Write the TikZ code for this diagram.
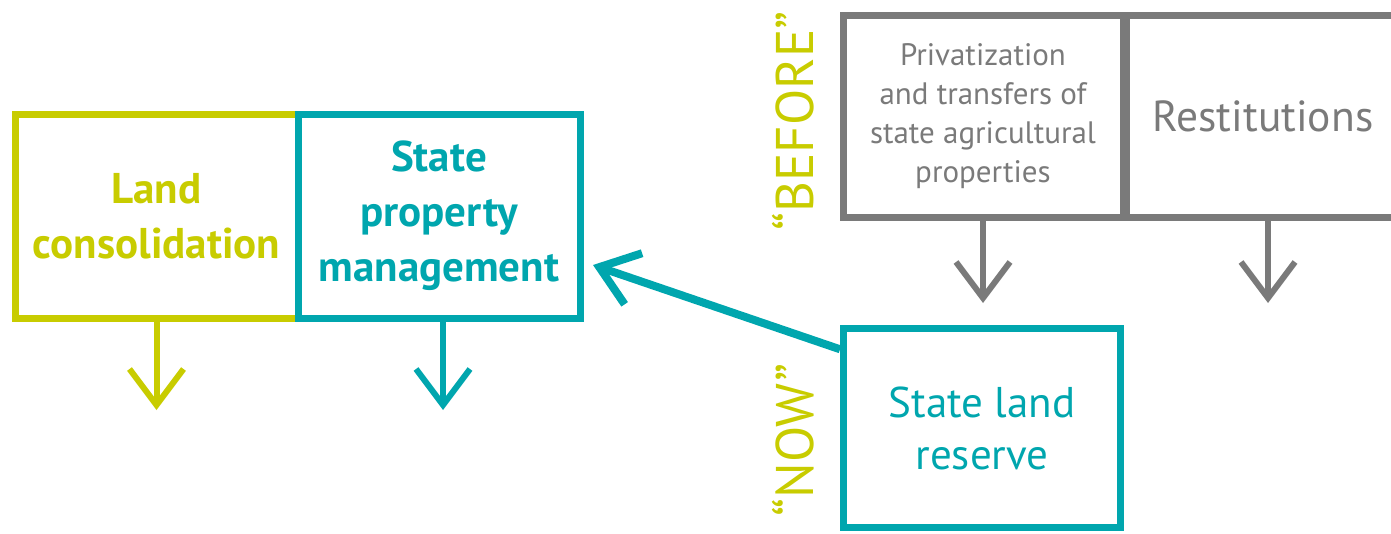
\documentclass[tikz,border=0pt]{standalone}
\usepackage{fontspec}
\setmainfont{PT Sans}
\usetikzlibrary{arrows.meta}

\definecolor{consgreen}{RGB}{200,204,0}
\definecolor{stateteal}{RGB}{0,166,174}
\definecolor{oldgray}{RGB}{122,122,122}

\newcommand\boldbig{\fontsize{43}{55}\selectfont\bfseries}
\newcommand\plainmid{\fontsize{31}{39}\selectfont}
\newcommand\plainbig{\fontsize{43}{52}\selectfont}
\newcommand\plainhuge{\fontsize{43.5}{50}\selectfont}
\newcommand\periodfont{\fontsize{53}{50}\selectfont}

\tikzset{
  box/.style={draw, line width=7pt, minimum width=#1, minimum height=204pt,
    align=center, inner sep=0pt},
  downarrow/.style={line width=6pt, -{Straight Barb[length=36pt,width=54pt]}},
}

\begin{document}
\begin{tikzpicture}[x=1pt,y=-1pt]
\useasboundingbox (0,0) rectangle (1391,533);

% Today's offices
\node[box=283pt, draw=consgreen, text=consgreen, font=\boldbig] (land) at (156.5,216) {Land\\consolidation};
\node[box=282pt, draw=stateteal, text=stateteal, font=\boldbig] (stateprop) at (439,216) {State\\property\\management};
\coordinate (landout) at (156.5,410);
\coordinate (propout) at (443,410);
\draw[downarrow, consgreen] (land.south) -- (landout);
\draw[downarrow, stateteal] (propout |- stateprop.south) -- (propout);

% Earlier sources of state land
\node[box=280pt, minimum height=202pt, draw=oldgray, text=oldgray, font=\plainmid] (priv) at (983,116) {Privatization\\and transfers of\\state agricultural\\properties};
\node[box=274pt, minimum height=202pt, draw=oldgray, text=oldgray, font=\plainhuge] (restit) at (1263,116) {Restitutions};
\coordinate (privout) at (983,303);
\coordinate (restitout) at (1268,303);
\draw[downarrow, oldgray] (priv.south) -- (privout);
\draw[downarrow, oldgray] (restitout |- restit.south) -- (restitout);

% Present reserve
\node[box=277pt, minimum height=199pt, draw=stateteal, text=stateteal, font=\plainbig] (reserve) at (982,428) {State land\\reserve};
\coordinate (propin) at (593,265);
\draw[stateteal, line width=8pt, -{Straight Barb[length=36pt,width=54pt]}] (reserve.151) -- (propin);

% Period labels
\node[rotate=90, text=consgreen, font=\periodfont] (before) at (793,121) {“BEFORE”};
\node[rotate=90, text=consgreen, font=\periodfont] (now) at (793,440) {“NOW”};
\end{tikzpicture}
\end{document}
